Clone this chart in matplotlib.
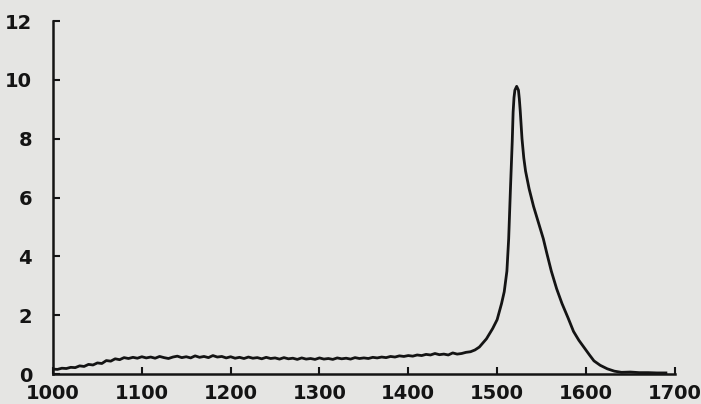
import matplotlib
matplotlib.use("Agg")
import matplotlib.pyplot as plt

# spectrum
wavenumber = [1000, 1005, 1010, 1015, 1020, 1025, 1030, 1035, 1040, 1045,
              1050, 1055, 1060, 1065, 1070, 1075, 1080, 1085, 1090, 1095,
              1100, 1105, 1110, 1115, 1120, 1125, 1130, 1135, 1140, 1145,
              1150, 1155, 1160, 1165, 1170, 1175, 1180, 1185, 1190, 1195,
              1200, 1205, 1210, 1215, 1220, 1225, 1230, 1235, 1240, 1245,
              1250, 1255, 1260, 1265, 1270, 1275, 1280, 1285, 1290, 1295,
              1300, 1305, 1310, 1315, 1320, 1325, 1330, 1335, 1340, 1345,
              1350, 1355, 1360, 1365, 1370, 1375, 1380, 1385, 1390, 1395,
              1400, 1405, 1410, 1415, 1420, 1425, 1430, 1435, 1440, 1445,
              1450, 1455, 1460, 1465, 1470, 1475, 1480, 1488, 1495, 1500,
              1505, 1508, 1511, 1513, 1514, 1515, 1517, 1518, 1519, 1520,
              1522, 1524, 1525, 1526, 1528, 1530, 1532, 1536, 1541, 1546,
              1552, 1556, 1561, 1567, 1573, 1580, 1586, 1592, 1598, 1604,
              1609, 1616, 1624, 1632, 1640, 1650, 1660, 1670, 1680, 1690]
intensity = [0.17, 0.16, 0.20, 0.19, 0.23, 0.22, 0.28, 0.26, 0.33, 0.31,
             0.38, 0.36, 0.46, 0.44, 0.52, 0.49, 0.56, 0.53, 0.57, 0.54,
             0.59, 0.55, 0.58, 0.54, 0.60, 0.56, 0.53, 0.58, 0.61, 0.56,
             0.59, 0.55, 0.62, 0.57, 0.60, 0.56, 0.63, 0.58, 0.60, 0.55,
             0.59, 0.54, 0.57, 0.53, 0.58, 0.54, 0.56, 0.52, 0.57, 0.53,
             0.55, 0.51, 0.56, 0.52, 0.54, 0.50, 0.55, 0.51, 0.53, 0.50,
             0.55, 0.51, 0.53, 0.50, 0.55, 0.52, 0.54, 0.51, 0.56, 0.53,
             0.55, 0.53, 0.57, 0.55, 0.58, 0.56, 0.60, 0.58, 0.62, 0.60,
             0.63, 0.61, 0.65, 0.63, 0.67, 0.65, 0.70, 0.66, 0.68, 0.65,
             0.72, 0.68, 0.70, 0.74, 0.76, 0.82, 0.92, 1.20, 1.55, 1.85,
             2.40, 2.80, 3.50, 4.60, 5.50, 6.30, 7.90, 8.90, 9.40, 9.65,
             9.78, 9.65, 9.35, 8.95, 8.00, 7.35, 6.90, 6.30, 5.70, 5.20,
             4.60, 4.10, 3.50, 2.90, 2.40, 1.90, 1.45, 1.15, 0.90, 0.65,
             0.45, 0.30, 0.18, 0.10, 0.06, 0.07, 0.05, 0.05, 0.04, 0.04]

x_ticks = [1000, 1100, 1200, 1300, 1400, 1500, 1600, 1700]
y_ticks = [0, 2, 4, 6, 8, 10, 12]

bg = '#e5e5e3'
ink = '#141414'

fig = plt.figure(figsize=(7.01, 4.04), dpi=100, facecolor=bg)
ax = fig.add_axes([0.0756, 0.074, 0.887, 0.874], facecolor=bg)

ax.plot(wavenumber, intensity, color=ink, lw=2.0, solid_joinstyle='round')

ax.set_xlim(1000, 1700)
ax.set_ylim(0, 12)
ax.set_xticks(x_ticks)
ax.set_yticks(y_ticks)

for side in ['top', 'right']:
    ax.spines[side].set_visible(False)
for side in ['left', 'bottom']:
    ax.spines[side].set_color(ink)
    ax.spines[side].set_linewidth(1.8)

ax.tick_params(axis='both', direction='in', length=5, width=1.5, color=ink,
               labelsize=14, labelcolor=ink)
ax.tick_params(axis='y', pad=15)
ax.tick_params(axis='x', pad=7)
for lab in ax.get_xticklabels() + ax.get_yticklabels():
    lab.set_fontweight('bold')

fig.savefig('out.png', dpi=100, facecolor=bg)
